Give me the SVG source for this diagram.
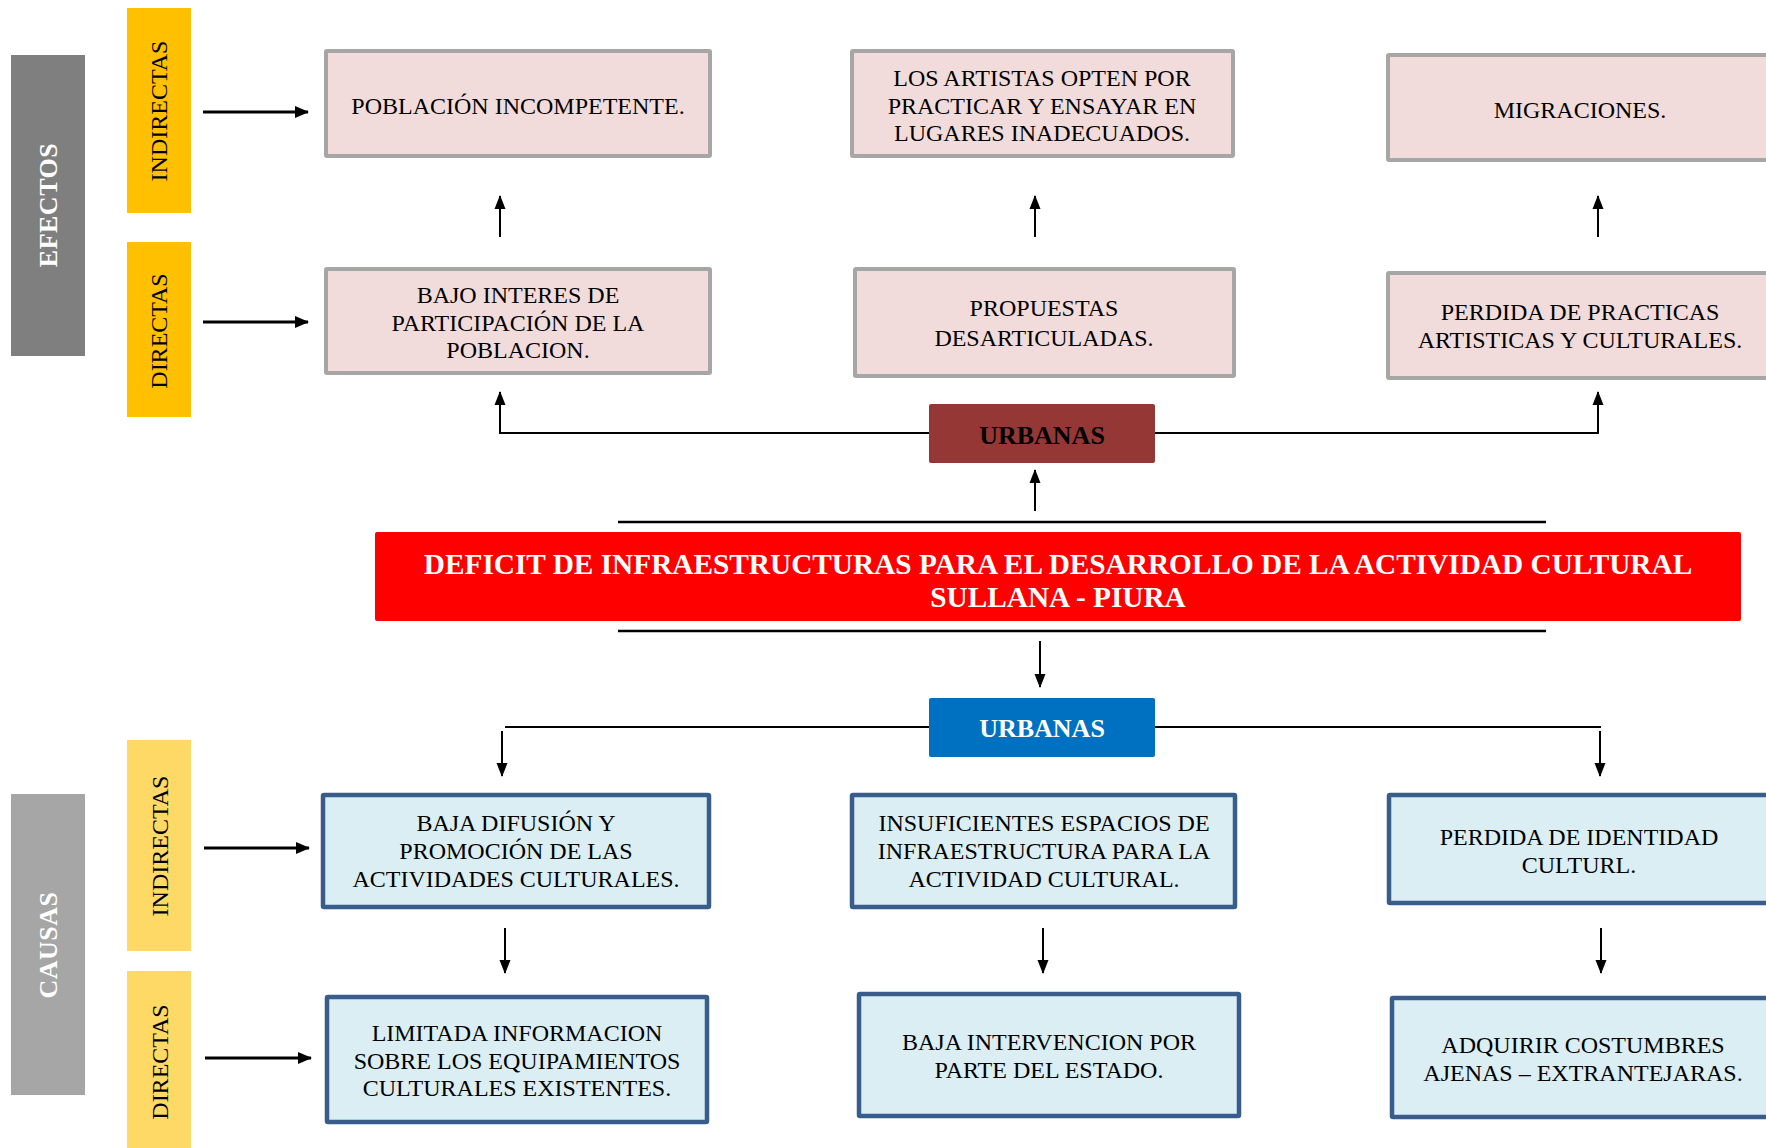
<svg xmlns="http://www.w3.org/2000/svg" width="1766" height="1148" viewBox="0 0 1766 1148">
<defs>
<style>
text{font-family:"Liberation Serif","Times New Roman",serif;}
.bt{font-size:24px;fill:#000;text-anchor:middle;}
.lab{font-size:24px;fill:#000;text-anchor:middle;}
.side{font-size:26px;font-weight:bold;fill:#fff;text-anchor:middle;}
.pink{fill:#F2DCDB;stroke:#A6A6A6;stroke-width:4;}
.blue{fill:#DBEEF4;stroke:#385D8A;stroke-width:4.5;}
.ln{stroke:#000;stroke-width:2;fill:none;}
.lnh{stroke:#000;stroke-width:3;fill:none;}
</style>
<marker id="ah" markerUnits="userSpaceOnUse" markerWidth="14" markerHeight="14" viewBox="0 0 14 14" refX="13" refY="7" orient="auto">
<path d="M0,1 L14,7 L0,13 Z" fill="#000"/>
</marker>
<marker id="ahs" markerUnits="userSpaceOnUse" markerWidth="14" markerHeight="12" viewBox="0 0 14 12" refX="13" refY="6" orient="auto">
<path d="M0,0.5 L14,6 L0,11.5 Z" fill="#000"/>
</marker>
</defs>
<rect width="1766" height="1148" fill="#fff"/>

<g id="connectors">
<line class="lnh" x1="203" y1="112" x2="308" y2="112" marker-end="url(#ah)"/>
<line class="lnh" x1="203" y1="322" x2="308" y2="322" marker-end="url(#ah)"/>
<line class="lnh" x1="204" y1="848" x2="309" y2="848" marker-end="url(#ah)"/>
<line class="lnh" x1="205" y1="1058" x2="311" y2="1058" marker-end="url(#ah)"/>
<line class="ln" x1="500" y1="237" x2="500" y2="196" marker-end="url(#ahs)"/>
<line class="ln" x1="1035" y1="237" x2="1035" y2="196" marker-end="url(#ahs)"/>
<line class="ln" x1="1598" y1="237" x2="1598" y2="196" marker-end="url(#ahs)"/>
<polyline class="ln" points="929,433 500,433 500,392"/>
<line class="ln" x1="500" y1="410" x2="500" y2="392" marker-end="url(#ahs)"/>
<polyline class="ln" points="1155,433 1598,433 1598,392"/>
<line class="ln" x1="1598" y1="410" x2="1598" y2="392" marker-end="url(#ahs)"/>
<line class="ln" x1="1035" y1="511" x2="1035" y2="470" marker-end="url(#ahs)"/>
<line x1="618" y1="522" x2="1546" y2="522" stroke="#000" stroke-width="2.5"/>
<line x1="618" y1="631" x2="1546" y2="631" stroke="#000" stroke-width="2.5"/>
<line class="ln" x1="1040" y1="641" x2="1040" y2="687" marker-end="url(#ahs)"/>
<polyline class="ln" points="929,727 505,727"/>
<polyline class="ln" points="1155,727 1601,727"/>
<line class="ln" x1="502" y1="731" x2="502" y2="776" marker-end="url(#ahs)"/>
<line class="ln" x1="1600" y1="731" x2="1600" y2="776" marker-end="url(#ahs)"/>
<line class="ln" x1="505" y1="928" x2="505" y2="973" marker-end="url(#ahs)"/>
<line class="ln" x1="1043" y1="928" x2="1043" y2="973" marker-end="url(#ahs)"/>
<line class="ln" x1="1601" y1="928" x2="1601" y2="973" marker-end="url(#ahs)"/>
</g>

<g id="efectos">
<rect x="11" y="55" width="74" height="301" fill="#7F7F7F"/>
<text class="side" transform="translate(57,205) rotate(-90)" letter-spacing="0.5">EFECTOS</text>
</g>
<g id="causas">
<rect x="11" y="794" width="74" height="301" fill="#A6A6A6"/>
<text class="side" transform="translate(57,945) rotate(-90)" letter-spacing="0.5">CAUSAS</text>
</g>
<g id="efectos-indirectas">
<rect x="127" y="8" width="64" height="205" fill="#FFC000"/>
<text class="lab" transform="translate(167,111) rotate(-90)">INDIRECTAS</text>
</g>
<g id="efectos-directas">
<rect x="127" y="242" width="64" height="175" fill="#FFC000"/>
<text class="lab" transform="translate(167,331) rotate(-90)">DIRECTAS</text>
</g>
<g id="causas-indirectas">
<rect x="127" y="740" width="64" height="211" fill="#FFD966"/>
<text class="lab" transform="translate(168,846) rotate(-90)">INDIRECTAS</text>
</g>
<g id="causas-directas">
<rect x="127" y="971" width="64" height="177" fill="#FFD966"/>
<text class="lab" transform="translate(168,1062) rotate(-90)">DIRECTAS</text>
</g>

<g id="poblacion-incompetente">
<rect class="pink" x="326" y="51" width="384" height="105" rx="1"/>
<text class="bt" x="518" y="114">POBLACIÓN INCOMPETENTE.</text>
</g>
<g id="los-artistas">
<rect class="pink" x="852" y="51" width="381" height="105" rx="1"/>
<text class="bt" x="1042" y="86">LOS ARTISTAS OPTEN POR</text>
<text class="bt" x="1042" y="114">PRACTICAR Y ENSAYAR EN</text>
<text class="bt" x="1042" y="141">LUGARES INADECUADOS.</text>
</g>
<g id="migraciones">
<rect class="pink" x="1388" y="55" width="390" height="105" rx="1"/>
<text class="bt" x="1580" y="118">MIGRACIONES.</text>
</g>
<g id="bajo-interes">
<rect class="pink" x="326" y="269" width="384" height="104" rx="1"/>
<text class="bt" x="518" y="303">BAJO INTERES DE</text>
<text class="bt" x="518" y="331">PARTICIPACIÓN DE LA</text>
<text class="bt" x="518" y="358">POBLACION.</text>
</g>
<g id="propuestas">
<rect class="pink" x="855" y="269" width="379" height="107" rx="1"/>
<text class="bt" x="1044" y="316">PROPUESTAS</text>
<text class="bt" x="1044" y="346">DESARTICULADAS.</text>
</g>
<g id="perdida-practicas">
<rect class="pink" x="1388" y="273" width="390" height="105" rx="1"/>
<text class="bt" x="1580" y="320">PERDIDA DE PRACTICAS</text>
<text class="bt" x="1580" y="348">ARTISTICAS Y CULTURALES.</text>
</g>

<g id="urbanas-efectos">
<rect x="929" y="404" width="226" height="59" rx="2" fill="#953735"/>
<text x="1042" y="444" font-size="26" font-weight="bold" text-anchor="middle" fill="#000">URBANAS</text>
</g>
<g id="problema-central">
<rect x="375" y="532" width="1366" height="89" rx="2" fill="#FF0000"/>
<text x="1058" y="574" font-size="29.3" font-weight="bold" text-anchor="middle" fill="#fff">DEFICIT DE INFRAESTRUCTURAS PARA EL DESARROLLO DE LA ACTIVIDAD CULTURAL</text>
<text x="1058" y="607" font-size="29.3" font-weight="bold" text-anchor="middle" fill="#fff">SULLANA - PIURA</text>
</g>
<g id="urbanas-causas">
<rect x="929" y="698" width="226" height="59" rx="2" fill="#0070C0"/>
<text x="1042" y="737" font-size="26" font-weight="bold" text-anchor="middle" fill="#fff">URBANAS</text>
</g>

<g id="baja-difusion">
<rect class="blue" x="323" y="795" width="386" height="112" rx="1"/>
<text class="bt" x="516" y="831">BAJA DIFUSIÓN Y</text>
<text class="bt" x="516" y="859">PROMOCIÓN DE LAS</text>
<text class="bt" x="516" y="887">ACTIVIDADES CULTURALES.</text>
</g>
<g id="insuficientes-espacios">
<rect class="blue" x="852" y="795" width="383" height="112" rx="1"/>
<text class="bt" x="1044" y="831">INSUFICIENTES ESPACIOS DE</text>
<text class="bt" x="1044" y="859">INFRAESTRUCTURA PARA LA</text>
<text class="bt" x="1044" y="887">ACTIVIDAD CULTURAL.</text>
</g>
<g id="perdida-identidad">
<rect class="blue" x="1389" y="795" width="390" height="108" rx="1"/>
<text class="bt" x="1579" y="845">PERDIDA DE IDENTIDAD</text>
<text class="bt" x="1579" y="873">CULTURL.</text>
</g>
<g id="limitada-informacion">
<rect class="blue" x="327" y="997" width="380" height="125" rx="1"/>
<text class="bt" x="517" y="1041">LIMITADA INFORMACION</text>
<text class="bt" x="517" y="1069">SOBRE LOS EQUIPAMIENTOS</text>
<text class="bt" x="517" y="1096">CULTURALES EXISTENTES.</text>
</g>
<g id="baja-intervencion">
<rect class="blue" x="859" y="994" width="380" height="122" rx="1"/>
<text class="bt" x="1049" y="1050">BAJA INTERVENCION POR</text>
<text class="bt" x="1049" y="1078">PARTE DEL ESTADO.</text>
</g>
<g id="adquirir-costumbres">
<rect class="blue" x="1392" y="998" width="390" height="119" rx="1"/>
<text class="bt" x="1583" y="1053">ADQUIRIR COSTUMBRES</text>
<text class="bt" x="1583" y="1081">AJENAS – EXTRANTEJARAS.</text>
</g>
</svg>
